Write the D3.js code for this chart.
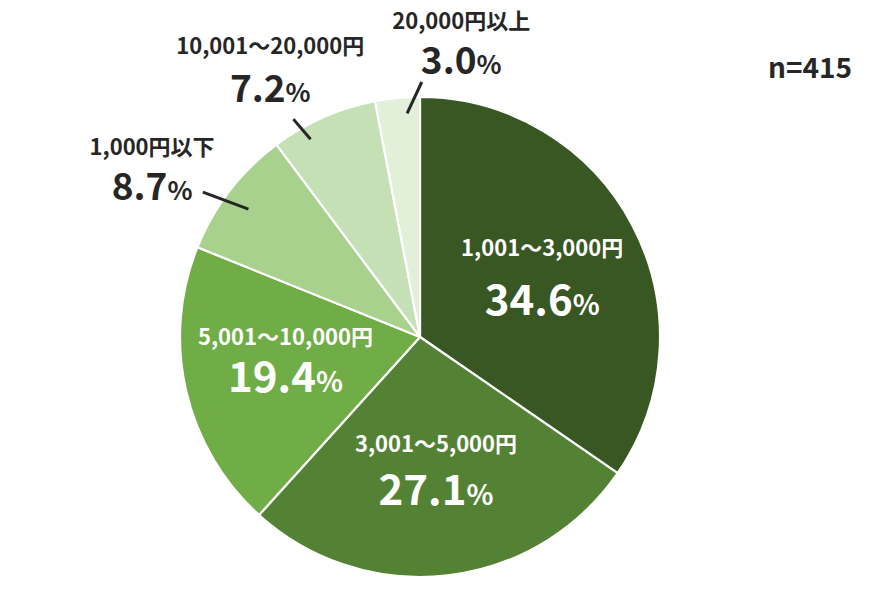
<!DOCTYPE html>
<html><head><meta charset="utf-8">
<script src="https://cdn.jsdelivr.net/npm/d3@7"></script>
<style>html,body{margin:0;padding:0;background:#fff;}svg{display:block;}</style>
</head><body>
<svg id="chart" width="886" height="597"></svg>
<script>
const categories = ["1,001～3,000円", "3,001～5,000円", "5,001～10,000円", "1,000円以下", "10,001～20,000円", "20,000円以上"];
const values = [34.6, 27.1, 19.4, 8.7, 7.2, 3.0];
const colors = ["#385723", "#548235", "#70ad47", "#a9d18e", "#c5e0b4", "#e2f0d9"];
const sampleNote = "n=415";

// layout (not data)
const W = 886, H = 597, cx = 420, cy = 337, R = 240;
const FONT = "'Noto Sans CJK JP','Noto Sans',sans-serif";
const labelLayout = [
  {inside: true, r: 138, da: 0, nameDy: -17, pctDy: 42},
  {inside: true, r: 138, da: 0, nameDy: -22, pctDy: 31},
  {inside: true, r: 138, da: 0, nameDy: -23, pctDy: 24},
  {inside: false, r: 312, da: -6.8, nameDy: -22, pctDy: 23, line: [[-3.9, 261], [-0.9, 214]]},
  {inside: false, r: 299, da: -6.3, nameDy: -24, pctDy: 24, line: [[-6.4, 252], [-5.2, 226]]},
  {inside: false, r: 289, da: 13.6, nameDy: -22, pctDy: 23, line: [[5.8, 255], [2.1, 224]]}
];

const svg = d3.select("#chart");
const g = svg.append("g").attr("transform", `translate(${cx},${cy})`);

const pie = d3.pie().sort(null).value(d => d)(values);
const arc = d3.arc().innerRadius(0).outerRadius(R);

g.selectAll("path.slice").data(pie).enter().append("path")
  .attr("class", "slice")
  .attr("d", arc)
  .attr("fill", (d, i) => colors[i])
  .attr("stroke", "#fff")
  .attr("stroke-width", 2.2)
  .attr("stroke-linejoin", "round");

function polar(angleRad, r) {
  return [r * Math.sin(angleRad), -r * Math.cos(angleRad)];
}

pie.forEach((d, i) => {
  const L = labelLayout[i];
  const mid = (d.startAngle + d.endAngle) / 2 + L.da * Math.PI / 180;
  const [x, y] = polar(mid, L.r);
  const fill = L.inside ? "#ffffff" : "#262626";
  const nameSize = 22;
  const pctSize = L.inside ? 42 : 37;
  const pctSmall = L.inside ? 28 : 26;

  g.append("text")
    .attr("x", x).attr("y", y + L.nameDy)
    .attr("text-anchor", "middle")
    .attr("font-family", FONT)
    .attr("font-weight", 700)
    .attr("font-size", nameSize)
    .attr("fill", fill)
    .text(categories[i]);

  const t = g.append("text")
    .attr("x", x).attr("y", y + L.pctDy)
    .attr("text-anchor", "middle")
    .attr("font-family", FONT)
    .attr("font-weight", 700)
    .attr("fill", fill);
  t.append("tspan").attr("font-size", pctSize).text(values[i].toFixed(1));
  t.append("tspan").attr("font-size", pctSmall).text("%");

  if (!L.inside) {
    const base = (d.startAngle + d.endAngle) / 2;
    const p1 = polar(base + L.line[0][0] * Math.PI / 180, L.line[0][1]);
    const p2 = polar(base + L.line[1][0] * Math.PI / 180, L.line[1][1]);
    g.append("line")
      .attr("x1", p1[0]).attr("y1", p1[1])
      .attr("x2", p2[0]).attr("y2", p2[1])
      .attr("stroke", "#262626").attr("stroke-width", 3);
  }
});

svg.append("text")
  .attr("x", 810).attr("y", 78)
  .attr("text-anchor", "middle")
  .attr("font-family", FONT)
  .attr("font-weight", 700)
  .attr("font-size", 28)
  .attr("fill", "#262626")
  .text(sampleNote);
</script>
</body></html>
